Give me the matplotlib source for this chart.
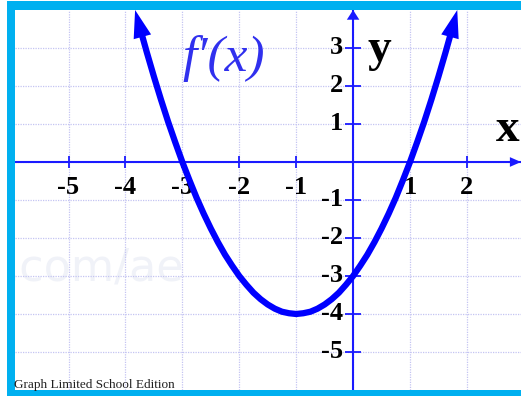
import matplotlib
matplotlib.use("Agg")
import matplotlib.pyplot as plt
from matplotlib.patches import Rectangle

# ---- data ----
curve_x = [-3.83, -3.75, -3.625, -3.5, -3.375, -3.25, -3.125, -3.0, -2.875, -2.75, -2.625, -2.5,
           -2.375, -2.25, -2.125, -2.0, -1.875, -1.75, -1.625, -1.5, -1.375, -1.25, -1.125, -1.0,
           -0.875, -0.75, -0.625, -0.5, -0.375, -0.25, -0.125, 0.0, 0.125, 0.25, 0.375, 0.5,
           0.625, 0.75, 0.875, 1.0, 1.125, 1.25, 1.375, 1.5, 1.625, 1.75, 1.83]
curve_y = [4.0, 3.56, 2.89, 2.25, 1.64, 1.06, 0.52, 0.0, -0.48, -0.94, -1.36, -1.75,
           -2.11, -2.44, -2.73, -3.0, -3.23, -3.44, -3.61, -3.75, -3.86, -3.94, -3.98, -4.0,
           -3.98, -3.94, -3.86, -3.75, -3.61, -3.44, -3.23, -3.0, -2.73, -2.44, -2.11, -1.75,
           -1.36, -0.94, -0.48, 0.0, 0.52, 1.06, 1.64, 2.25, 2.89, 3.56, 4.0]
x_ticks = [-5, -4, -3, -2, -1, 1, 2]
y_ticks = [-5, -4, -3, -2, -1, 1, 2, 3]
x_tick_labels = ["-5", "-4", "-3", "-2", "-1", "1", "2"]
y_tick_labels = ["-5", "-4", "-3", "-2", "-1", "1", "2", "3"]
curve_label = "f\u2032(x)"

W, H = 521, 396
fig = plt.figure(figsize=(W / 100, H / 100), dpi=100)
fig.patch.set_facecolor("white")

# cyan frame
frame = Rectangle((7 / W, 0), 1, (H - 1) / H, transform=fig.transFigure,
                  facecolor="#00b0f0", edgecolor="none", zorder=-5)
fig.patches.append(frame)

ax = fig.add_axes([15 / W, (H - 390) / H, (W - 15) / W, 380 / H])
ax.set_zorder(2)
ax.set_facecolor("white")
ax.set_xlim(-5.94, 2.95)
ax.set_ylim(-6.0, 4.0)
for s in ax.spines.values():
    s.set_visible(False)
ax.set_xticks(range(-5, 3))
ax.set_yticks(range(-5, 4))
ax.tick_params(length=0, labelbottom=False, labelleft=False)
ax.grid(True, color="#c4c4f2", linestyle=(0, (1, 1)), linewidth=0.9)

axis_col = "#1a1aff"
curve_col = "#0000ff"
serif = ["Liberation Serif", "DejaVu Serif"]

# watermark
ax.text(-4.55, -2.79, ".com/ae", fontsize=32, color="#f0f2f8", ha="center", va="center",
        family=["DejaVu Sans"], zorder=0.5, clip_on=True)

# axes lines
ax.axhline(0, color=axis_col, lw=1.5, zorder=2)
ax.axvline(0, color=axis_col, lw=1.5, zorder=2)
ax.annotate("", xy=(2.95, 0), xytext=(2.7, 0),
            arrowprops=dict(arrowstyle="-|>,head_length=0.8,head_width=0.35", mutation_scale=10,
                            color=axis_col, lw=0, shrinkA=0, shrinkB=0), zorder=3, annotation_clip=False)
ax.annotate("", xy=(0, 4.0), xytext=(0, 3.6),
            arrowprops=dict(arrowstyle="-|>,head_length=0.7,head_width=0.45", mutation_scale=10,
                            color=axis_col, lw=0, shrinkA=0, shrinkB=0), zorder=3, annotation_clip=False)

# tick marks
ax.plot(x_ticks, [0] * len(x_ticks), ls="none", marker="|", ms=8, mew=1.3, color=axis_col, zorder=3)
ax.plot([0] * len(y_ticks), y_ticks, ls="none", marker="_", ms=11, mew=1.3, color=axis_col, zorder=3)

# tick labels
for v, t in zip(x_ticks, x_tick_labels):
    ax.text(v, -0.68, t, fontsize=19, fontweight="bold", family=serif, ha="center", va="center",
            color="black", zorder=4)
for v, t in zip(y_ticks, y_tick_labels):
    ax.text(-0.17, v, t, fontsize=19, fontweight="bold", family=serif, ha="right", va="center",
            color="black", zorder=4)

# axis names
ax.text(0.47, 2.95, "y", fontsize=34, fontweight="bold", family=serif, ha="center", va="center")
ax.text(2.71, 0.85, "x", fontsize=34, fontweight="bold", family=serif, ha="center", va="center")

# curve
ax.plot(curve_x[1:-1], curve_y[1:-1], color=curve_col, lw=4.5, solid_capstyle="round",
        solid_joinstyle="round", zorder=5)
for a, b in [(1, 0), (-2, -1)]:
    ax.annotate("", xy=(curve_x[b], curve_y[b]), xytext=(curve_x[a], curve_y[a]),
                arrowprops=dict(arrowstyle="-|>,head_length=2.0,head_width=0.65", mutation_scale=10,
                                color=curve_col, lw=0, shrinkA=0, shrinkB=0),
                zorder=6, annotation_clip=False)

ax.text(-2.27, 2.72, curve_label, fontsize=37, style="italic", family=serif, color="#3030ee",
        ha="center", va="center", zorder=6)

fig.text(14 / W, (H - 388) / H, "Graph Limited School Edition", fontsize=9.5, family=serif,
         color="#202020", ha="left", va="baseline", zorder=10)

fig.savefig("out.png", dpi=100, facecolor=fig.get_facecolor())
